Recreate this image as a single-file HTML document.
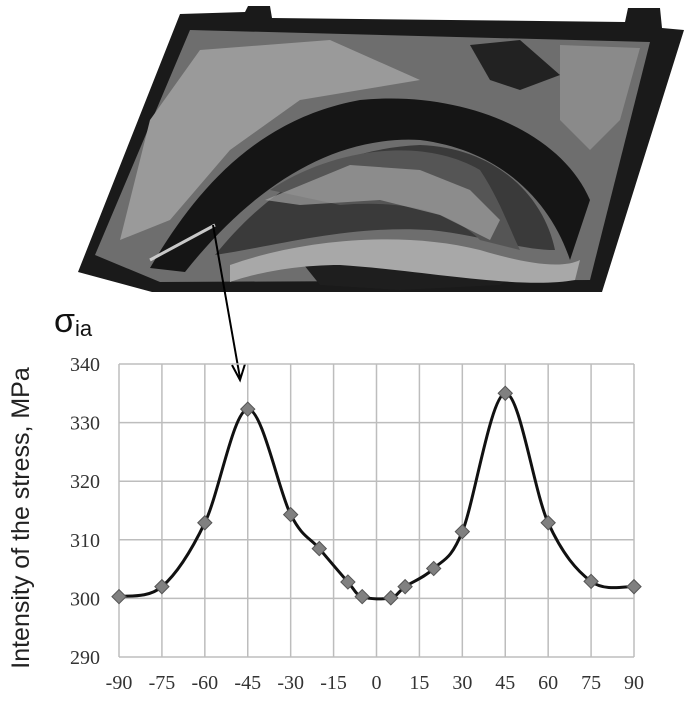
<!DOCTYPE html>
<html><head><meta charset="utf-8"><style>
body{margin:0;background:#fff;width:687px;height:702px;overflow:hidden}
svg{display:block}
.tk{font-family:"Liberation Serif",serif;font-size:20px;fill:#333}
</style></head><body>
<svg width="687" height="702" viewBox="0 0 687 702">
<g>
  <polygon points="180,14 245,12 248,6 270,6 272,18 625,22 628,8 660,8 662,28 684,30 602,292 152,292 78,272" fill="#1a1a1a"/>
  <polygon points="190,30 650,42 590,280 160,282 95,255" fill="#6e6e6e"/>
  <polygon points="200,50 330,40 420,80 360,90 300,100 230,150 170,220 120,240 150,120" fill="#9a9a9a"/>
  <polygon points="470,45 520,40 560,75 520,90 490,80" fill="#222"/>
  <polygon points="560,45 640,48 620,120 590,150 560,120" fill="#8a8a8a"/>
  <polygon points="300,260 360,250 450,245 520,270 500,285 400,290 320,285" fill="#1e1e1e"/>
  <path d="M150,268 C190,200 250,120 360,100 C460,90 560,130 590,200 L570,260 C550,200 500,150 420,140 C330,135 250,190 185,272 Z" fill="#151515"/>
  <path d="M215,255 C260,200 320,150 420,145 C500,148 545,200 555,250 C520,250 480,235 430,230 C350,225 280,245 215,255 Z" fill="#3a3a3a"/>
  <path d="M270,190 C330,150 420,135 480,170 C500,200 510,230 520,250 L480,240 C450,210 400,200 340,205 Z" fill="#555"/>
  <path d="M265,200 L350,165 L420,170 L470,190 L500,220 L490,240 L440,215 L380,200 L300,205 Z" fill="#b0b0b0" opacity="0.6"/>
  <path d="M230,265 C300,240 400,230 480,250 C520,262 560,270 580,260 L575,280 C520,290 420,270 340,265 C290,265 250,275 230,282 Z" fill="#a8a8a8"/>
  <line x1="150" y1="260" x2="215" y2="225" stroke="#c8c8c8" stroke-width="3"/>
</g>
<g>
  <line x1="213" y1="225" x2="240" y2="378" stroke="#000" stroke-width="2"/>
  <polyline points="232,365 240,380 245,364" fill="none" stroke="#000" stroke-width="2"/>
</g>
<text x="54" y="332" font-family="Liberation Sans,sans-serif" font-size="34" fill="#111">σ<tspan font-size="22" dy="4">ia</tspan></text>
<text transform="translate(29,518) rotate(-90)" text-anchor="middle" font-family="Liberation Sans,sans-serif" font-size="25" fill="#222">Intensity of the stress, MPa</text>
<g id="chart"></g>
</svg>
<script>
const xTicks=[-90,-75,-60,-45,-30,-15,0,15,30,45,60,75,90];
const yTicks=[290,300,310,320,330,340];
const angles=[-90,-75,-60,-45,-30,-20,-10,-5,5,10,20,30,45,60,75,90];
const stress=[300.3,302,312.9,332.3,314.3,308.5,302.8,300.3,300.1,302,305.1,311.4,335,312.9,302.9,302];
const L=119,R=634,T=364,B=657;
const sx=v=>L+(v+90)/180*(R-L);
const sy=v=>B-(v-290)/50*(B-T);
const g=document.getElementById('chart');
const NS='http://www.w3.org/2000/svg';
function mk(t,a){const e=document.createElementNS(NS,t);for(const k in a)e.setAttribute(k,a[k]);g.appendChild(e);return e;}
xTicks.forEach(v=>{
  const l=mk('line',{x1:sx(v),x2:sx(v),y1:T,y2:B,stroke:'#bdbdbd','stroke-width':1.5});
  
  
  const t=mk('text',{x:sx(v),y:B+32,'text-anchor':'middle',class:'tk'});t.textContent=v;
  
  
});
yTicks.forEach(v=>{
  const l=mk('line',{x1:L,x2:R,y1:sy(v),y2:sy(v),stroke:'#bdbdbd','stroke-width':1.5});
  
  
  const t=mk('text',{x:100,y:sy(v)+7,'text-anchor':'end',class:'tk'});t.textContent=v;
  
  
});
const P=angles.map((a,i)=>[sx(a),sy(stress[i])]);
let d='M'+P[0][0]+','+P[0][1];
for(let i=0;i<P.length-1;i++){
  const p0=P[i-1]||P[i],p1=P[i],p2=P[i+1],p3=P[i+2]||p2,k=6;
  d+=' C'+(p1[0]+(p2[0]-p0[0])/k)+','+(p1[1]+(p2[1]-p0[1])/k)+' '+(p2[0]-(p3[0]-p1[0])/k)+','+(p2[1]-(p3[1]-p1[1])/k)+' '+p2[0]+','+p2[1];
}
const path=mk('path',{d:d,fill:'none',stroke:'#111','stroke-width':3});


P.forEach(p=>{
  const m=mk('rect',{x:p[0]-5,y:p[1]-5,width:10,height:10,fill:'#808080',stroke:'#555','stroke-width':1,transform:'rotate(45 '+p[0]+' '+p[1]+')'});
  
  
});
</script>
</body></html>
